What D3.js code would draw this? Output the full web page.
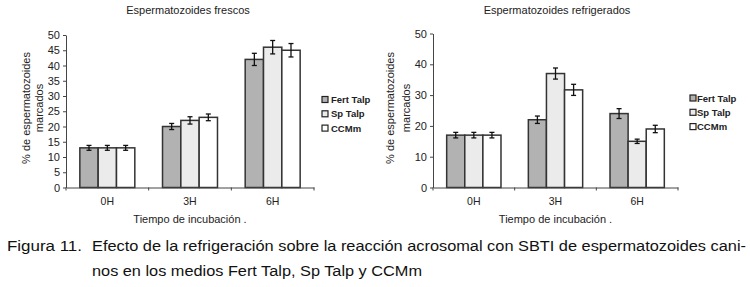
<!DOCTYPE html>
<html>
<head>
<meta charset="utf-8">
<script src="https://cdn.jsdelivr.net/npm/d3@7"></script>
<style>
  html, body { margin: 0; padding: 0; background: #fff; }
  svg { display: block; font-family: "Liberation Sans", Arial, sans-serif; }
</style>
</head>
<body>
<svg id="chart" width="750" height="287"></svg>
<script>
// ---- data ----
const categories = ["0H", "3H", "6H"];
const seriesNames = ["Fert Talp", "Sp Talp", "CCMm"];
const seriesColors = ["#b2b2b2", "#ebebeb", "#ffffff"];

const frescosTitle = "Espermatozoides frescos";
const frescosFert = [13, 20, 42];
const frescosSp = [13, 22, 46];
const frescosCCMm = [13, 23, 45];
const frescosFertErr = [0.8, 1.0, 2.0];
const frescosSpErr = [0.8, 1.2, 2.2];
const frescosCCMmErr = [0.8, 1.1, 2.2];
const frescosTicks = [0, 5, 10, 15, 20, 25, 30, 35, 40, 45, 50];

const refrigTitle = "Espermatozoides refrigerados";
const refrigFert = [17, 22, 24];
const refrigSp = [17, 37, 15];
const refrigCCMm = [17, 31.7, 19];
const refrigFertErr = [0.9, 1.2, 1.6];
const refrigSpErr = [0.9, 1.8, 0.7];
const refrigCCMmErr = [0.9, 1.8, 1.2];
const refrigTicks = [0, 10, 20, 30, 40, 50];

const yLabel1 = "% de espermatozoides";
const yLabel2 = "marcados";
const xLabel = "Tiempo de incubación .";
const captionLabel = "Figura 11.";
const captionLine1 = "Efecto de la refrigeración sobre la reacción acrosomal con SBTI de espermatozoides cani-";
const captionLine2 = "nos en los medios Fert Talp, Sp Talp y CCMm";

const FONT = '"Liberation Sans", Arial, sans-serif';
const svg = d3.select("#chart");

function drawPanel(p) {
  const g = svg.append("g");
  const x = d3.scaleBand().domain(categories).range([p.x0, p.x1]).padding(0);
  const y = d3.scaleLinear().domain([0, 50]).range([p.y0, p.y50]);
  const gap = x.bandwidth() * 0.335;
  const xs = d3.scaleBand().domain(seriesNames).range([gap / 2, x.bandwidth() - gap / 2]).padding(0);

  // title
  g.append("text").attr("x", p.titleX).attr("y", 14).attr("text-anchor", "middle")
    .attr("font-size", 11).attr("fill", "#222").text(p.title);

  // bars
  const rows = [];
  categories.forEach((c, i) => {
    p.series.forEach((s, j) => {
      rows.push({ c, name: seriesNames[j], v: s[i], e: p.errs[j][i], color: seriesColors[j] });
    });
  });
  g.selectAll("rect.bar").data(rows).enter().append("rect")
    .attr("class", "bar")
    .attr("x", d => x(d.c) + xs(d.name))
    .attr("y", d => y(d.v))
    .attr("width", xs.bandwidth())
    .attr("height", d => y(0) - y(d.v))
    .attr("fill", d => d.color)
    .attr("stroke", "#333").attr("stroke-width", 1.5);

  // error bars
  const cx = d => x(d.c) + xs(d.name) + xs.bandwidth() / 2;
  const eb = g.selectAll("g.err").data(rows).enter().append("g").attr("class", "err")
    .attr("stroke", "#111").attr("stroke-width", 1.3);
  eb.append("line").attr("x1", cx).attr("x2", cx)
    .attr("y1", d => y(d.v + d.e)).attr("y2", d => y(d.v - d.e));
  eb.append("line").attr("x1", d => cx(d) - 2.5).attr("x2", d => cx(d) + 2.5)
    .attr("y1", d => y(d.v + d.e)).attr("y2", d => y(d.v + d.e));
  eb.append("line").attr("x1", d => cx(d) - 2.5).attr("x2", d => cx(d) + 2.5)
    .attr("y1", d => y(d.v - d.e)).attr("y2", d => y(d.v - d.e));

  // y axis
  const ya = g.append("g").attr("transform", `translate(${p.x0},0)`)
    .call(d3.axisLeft(y).tickValues(p.ticks).tickSize(3).tickPadding(3).tickSizeOuter(0))
    .attr("font-family", FONT).attr("font-size", 11);
  ya.select(".domain").attr("stroke", "#444");
  ya.selectAll(".tick line").attr("stroke", "#444");
  ya.selectAll("text").attr("fill", "#222");

  // x axis
  const xa = g.append("g").attr("transform", `translate(0,${p.y0})`)
    .call(d3.axisBottom(x).tickSize(0).tickPadding(10).tickSizeOuter(0))
    .attr("font-family", FONT).attr("font-size", 10.5);
  xa.select(".domain").attr("stroke", "#444");
  xa.selectAll("text").attr("fill", "#222");
  const bounds = categories.map(c => x(c)).concat([x(categories[categories.length - 1]) + x.bandwidth()]);
  xa.selectAll("line.bt").data(bounds).enter().append("line").attr("class", "bt")
    .attr("x1", d => d).attr("x2", d => d).attr("y1", 0).attr("y2", 3).attr("stroke", "#444");

  // x label
  g.append("text").attr("x", (p.x0 + p.x1) / 2).attr("y", 223).attr("text-anchor", "middle")
    .attr("font-size", 11).attr("fill", "#222").text(xLabel);

  // y labels
  const cy = 108;
  g.append("text").attr("transform", `translate(${p.ylx1},${cy}) rotate(-90)`).attr("text-anchor", "middle")
    .attr("font-size", 11).attr("fill", "#222").text(yLabel1);
  g.append("text").attr("transform", `translate(${p.ylx2},${cy}) rotate(-90)`).attr("text-anchor", "middle")
    .attr("font-size", 11).attr("fill", "#222").text(yLabel2);

  // legend
  const lg = g.selectAll("g.leg").data(seriesNames).enter().append("g").attr("class", "leg")
    .attr("transform", (d, i) => `translate(${p.legX},${p.legY + i * 14.3})`);
  lg.append("rect").attr("x", 0).attr("y", -3).attr("width", 6).attr("height", 6)
    .attr("fill", (d, i) => seriesColors[i]).attr("stroke", "#222").attr("stroke-width", 1.2);
  lg.append("text").attr("x", p.legTextDx).attr("y", 3.5).attr("font-size", 9.5).attr("font-weight", "bold")
    .attr("fill", "#222").text(d => d);
}

drawPanel({
  title: frescosTitle, titleX: 188,
  series: [frescosFert, frescosSp, frescosCCMm],
  errs: [frescosFertErr, frescosSpErr, frescosCCMmErr],
  ticks: frescosTicks,
  x0: 66, x1: 314, y0: 187.5, y50: 35,
  ylx1: 30, ylx2: 43, legX: 322, legY: 99.5, legTextDx: 9
});
drawPanel({
  title: refrigTitle, titleX: 557,
  series: [refrigFert, refrigSp, refrigCCMm],
  errs: [refrigFertErr, refrigSpErr, refrigCCMmErr],
  ticks: refrigTicks,
  x0: 433, x1: 678, y0: 187.5, y50: 33.5,
  ylx1: 394, ylx2: 410, legX: 690, legY: 98, legTextDx: 7
});

// caption
const cap = svg.append("g").attr("font-size", 15.5).attr("fill", "#111");
cap.append("text").attr("x", 7).attr("y", 251).attr("textLength", 75).attr("lengthAdjust", "spacingAndGlyphs").text(captionLabel);
cap.append("text").attr("x", 92).attr("y", 251).attr("textLength", 654).attr("lengthAdjust", "spacingAndGlyphs").text(captionLine1);
cap.append("text").attr("x", 92).attr("y", 276).attr("textLength", 330).attr("lengthAdjust", "spacingAndGlyphs").text(captionLine2);
</script>
</body>
</html>
